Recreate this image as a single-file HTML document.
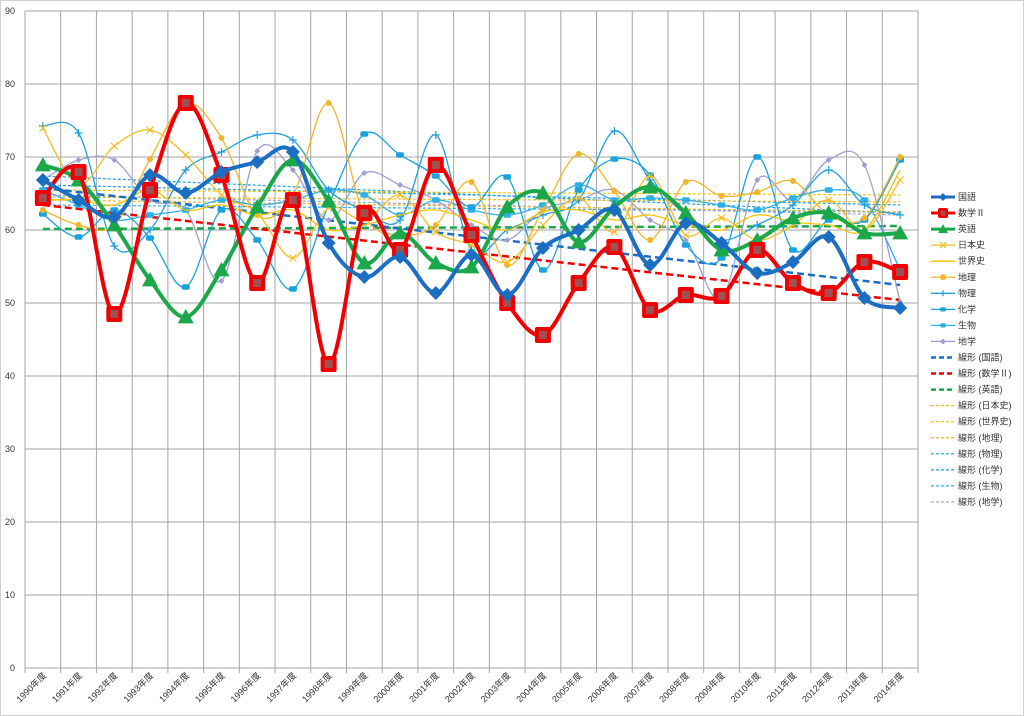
<!DOCTYPE html>
<html><head><meta charset="utf-8"><style>
html,body{margin:0;padding:0;background:#fff;}
svg{display:block;font-family:"Liberation Sans","Noto Sans CJK JP",sans-serif;}
</style></head><body>
<svg id="c" width="1024" height="716" viewBox="0 0 1024 716" xmlns="http://www.w3.org/2000/svg">
<rect x="0.5" y="0.5" width="1023" height="715" fill="#fff" stroke="#d0d0d0"/>
<g id="grid"></g><g id="trend"></g><g id="series"></g><g id="labels" font-size="9" fill="#333"></g><g id="legend" font-size="9" fill="#333"></g>
</svg>
<script>
const NS="http://www.w3.org/2000/svg";
function el(p,t,a,txt){const e=document.createElementNS(NS,t);for(const k in a)e.setAttribute(k,a[k]);if(txt!==undefined)e.textContent=txt;p.appendChild(e);return e;}
const L=25,R=918,T=11,B=668,W=(R-L)/25;
const X=i=>L+W*(i+0.5);
const g=document.getElementById('grid');
for(let v=0;v<=90;v+=10){const y=B-(B-T)*v/90;el(g,'line',{x1:L,x2:R,y1:y,y2:y,stroke:'#a6a6a6','stroke-width':1});}
for(let k=0;k<=25;k++){const x=L+W*k;el(g,'line',{x1:x,x2:x,y1:T,y2:B+5,stroke:'#a6a6a6','stroke-width':1});}
const lb=document.getElementById('labels');
for(let v=0;v<=90;v+=10){const y=B-(B-T)*v/90;el(lb,'text',{x:15,y:y+3,'text-anchor':'end'},String(v));}
for(let i=0;i<25;i++){const x=X(i)+4,y=B+8;el(lb,'text',{x:x,y:y,'text-anchor':'end',transform:`rotate(-45 ${x} ${y})`},(1990+i)+'年度');}
function smooth(pts){let d=`M${pts[0][0]},${pts[0][1]}`;for(let i=0;i<pts.length-1;i++){const p0=pts[i-1]||pts[i],p1=pts[i],p2=pts[i+1],p3=pts[i+2]||p2;const c1=[p1[0]+(p2[0]-p0[0])/6,p1[1]+(p2[1]-p0[1])/6],c2=[p2[0]-(p3[0]-p1[0])/6,p2[1]-(p3[1]-p1[1])/6];d+=` C${c1[0]},${c1[1]} ${c2[0]},${c2[1]} ${p2[0]},${p2[1]}`;}return d;}
function marker(p,type,x,y,s,col,fill){
 if(type==='d')el(p,'polygon',{points:`${x},${y-s} ${x+s},${y} ${x},${y+s} ${x-s},${y}`,fill:col});
 else if(type==='s'){el(p,'rect',{x:x-s,y:y-s,width:2*s,height:2*s,rx:2,fill:col});el(p,'rect',{x:x-s/2,y:y-s/2,width:s,height:s,fill:'#a05050'});}
 else if(type==='t')el(p,'polygon',{points:`${x},${y-s} ${x+s},${y+s*0.8} ${x-s},${y+s*0.8}`,fill:col});
 else if(type==='x'){el(p,'path',{d:`M${x-s},${y-s}L${x+s},${y+s}M${x-s},${y+s}L${x+s},${y-s}`,stroke:col,'stroke-width':1.2});}
 else if(type==='o')el(p,'circle',{cx:x,cy:y,r:s,fill:col});
 else if(type==='+'){el(p,'path',{d:`M${x-s},${y}L${x+s},${y}M${x},${y-s}L${x},${y+s}`,stroke:col,'stroke-width':1.2});}
 else if(type==='r')el(p,'rect',{x:x-s,y:y-s*0.7,width:2*s,height:1.4*s,rx:2,fill:col});
 else if(type==='m')el(p,'polygon',{points:`${x},${y-s} ${x+s},${y} ${x},${y+s} ${x-s},${y}`,fill:col});
}
const S=[
 {n:'地学',c:'#9fa0d0',w:1.3,m:'m',s:3,y:[180,160,160,200,210,281,151,170,220,173,185,200,225,240,210,200,190,220,240,298,180,200,160,165,302]},
 {n:'生物',c:'#2eb0e8',w:1.3,m:'r',s:4,y:[190,205,220,215,210,200,205,200,190,195,215,200,210,215,205,185,200,198,200,205,210,198,190,200,270]},
 {n:'化学',c:'#1aa3dd',w:1.3,m:'r',s:4,y:[214,237,210,238,287,210,240,289,205,134,155,176,207,177,270,190,159,175,245,258,157,250,220,220,160]},
 {n:'物理',c:'#22a0dc',w:1.3,m:'+',s:4,y:[126,133,246,230,170,152,135,140,190,210,220,135,250,230,215,200,131,180,215,240,225,205,170,205,215]},
 {n:'地理',c:'#f2b52a',w:1.3,m:'o',s:3,y:[210,225,225,159,103,138,215,195,103,215,235,225,182,265,210,154,191,240,182,196,192,181,215,218,157]},
 {n:'世界史',c:'#f5c400',w:1.3,m:'',s:0,y:[200,200,205,190,210,205,215,210,230,225,215,210,220,230,212,210,220,215,225,230,215,222,225,230,170]},
 {n:'日本史',c:'#f5bd1f',w:1.3,m:'x',s:3.5,y:[128,184,146,130,155,195,213,258,208,220,195,232,245,262,225,198,232,176,235,218,240,225,200,230,180]},
 {n:'英語',c:'#1aa84a',w:4,m:'t',s:8,y:[165,180,225,280,317,270,207,160,201,263,233,263,267,207,193,242,207,187,213,250,240,218,213,233,233]},
 {n:'数学Ⅱ',c:'#f00000',w:4,m:'s',s:8,y:[198,172,314,190,103,175,283,200,364,213,250,165,235,303,335,283,247,310,295,296,250,283,293,262,272]},
 {n:'国語',c:'#1b6ec2',w:4,m:'d',s:7,y:[180,200,217,175,193,172,162,152,243,277,257,293,255,295,248,230,210,265,223,243,273,262,237,298,308]},
];
const tr=document.getElementById('trend'),se=document.getElementById('series');
const T2=[[176,213,'#22a0dc'],[185,205,'#1aa3dd'],[205,212,'#2eb0e8'],[195,215,'#9fa0d0'],[190,195,'#f5c400'],[197,202,'#f5bd1f'],[200,212,'#f2b52a']];
T2.forEach(t=>el(tr,'line',{x1:X(0),x2:X(24),y1:t[0],y2:t[1],stroke:t[2],'stroke-width':1.2,'stroke-dasharray':'3,2'}));
[[229,226,'#1aa84a'],[205,300,'#f00000'],[188,285,'#1b6ec2']].forEach(t=>el(tr,'line',{x1:X(0),x2:X(24),y1:t[0],y2:t[1],stroke:t[2],'stroke-width':2.5,'stroke-dasharray':'7,4'}));
S.forEach(s=>{const pts=s.y.map((y,i)=>[X(i),y]);el(se,'path',{d:smooth(pts),fill:'none',stroke:s.c,'stroke-width':s.w});if(s.m)pts.forEach(p=>marker(se,s.m,p[0],p[1],s.s,s.c));});
const lg=document.getElementById('legend');
const LE=[['国語','#1b6ec2','d',4,3],['数学Ⅱ','#f00000','s',5,3],['英語','#1aa84a','t',5,3],['日本史','#f5bd1f','x',3,1.3],['世界史','#f5c400','',0,1.3],['地理','#f2b52a','o',3,1.3],['物理','#22a0dc','+',3,1.3],['化学','#1aa3dd','r',3,1.3],['生物','#2eb0e8','r',3,1.3],['地学','#9fa0d0','m',3,1.3],
['線形 (国語)','#1b6ec2','-',0,2.5],['線形 (数学Ⅱ)','#f00000','-',0,2.5],['線形 (英語)','#1aa84a','-',0,2.5],['線形 (日本史)','#f5bd1f','.',0,1.2],['線形 (世界史)','#f5c400','.',0,1.2],['線形 (地理)','#f2b52a','.',0,1.2],['線形 (物理)','#22a0dc','.',0,1.2],['線形 (化学)','#1aa3dd','.',0,1.2],['線形 (生物)','#2eb0e8','.',0,1.2],['線形 (地学)','#9fa0d0','.',0,1.2]];
LE.forEach((e,i)=>{const y=197+i*16.05;const a={x1:931,x2:955,y1:y,y2:y,stroke:e[1],'stroke-width':e[4]};if(e[2]==='-')a['stroke-dasharray']='5,3';if(e[2]==='.')a['stroke-dasharray']='3,2';el(lg,'line',a);if(e[2]&&e[2]!=='-'&&e[2]!=='.')marker(lg,e[2],943,y,e[3],e[1]);el(lg,'text',{x:958,y:y+3},e[0]);});
</script>
</body></html>
